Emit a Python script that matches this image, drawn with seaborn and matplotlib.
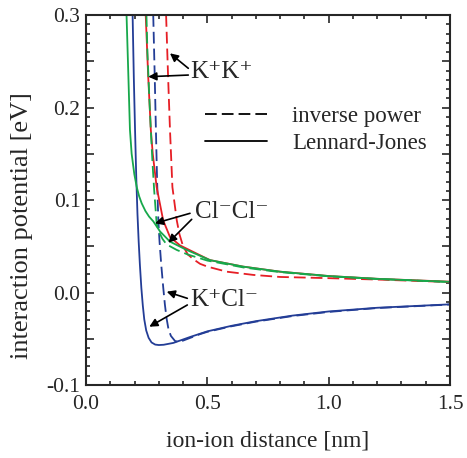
import seaborn as sns
import matplotlib.pyplot as plt
from matplotlib.lines import Line2D
from matplotlib.ticker import MultipleLocator, FuncFormatter

# K+Cl- : Lennard-Jones (solid) and inverse power (dashed)
kcl_lj_x = [0.192, 0.197, 0.202, 0.207, 0.212, 0.217, 0.222, 0.228, 0.234, 0.240, 0.248, 0.258,
            0.270, 0.285, 0.300, 0.320, 0.360, 0.430, 0.500, 0.600, 0.700, 0.850, 1.000, 1.200, 1.500]
kcl_lj_y = [0.300, 0.232, 0.176, 0.125, 0.085, 0.055, 0.030, 0.005, -0.014, -0.029, -0.041, -0.049,
            -0.054, -0.0563, -0.0568, -0.0565, -0.0545, -0.048, -0.042, -0.036, -0.031, -0.025, -0.0205, -0.0165, -0.0128]
kcl_ip_x = [0.277, 0.283, 0.288, 0.293, 0.298, 0.303, 0.310, 0.318, 0.325, 0.332, 0.340, 0.350,
            0.367, 0.385, 0.400, 0.430, 0.470, 0.500, 0.600, 0.700, 0.850, 1.000, 1.200, 1.500]
kcl_ip_y = [0.300, 0.235, 0.176, 0.120, 0.078, 0.055, 0.030, 0.006, -0.013, -0.028, -0.040, -0.047,
            -0.0525, -0.0535, -0.052, -0.049, -0.045, -0.0425, -0.0365, -0.0315, -0.0255, -0.021, -0.0168, -0.013]

# K+K+
kk_lj_x = [0.246, 0.256, 0.267, 0.275, 0.291, 0.318, 0.346, 0.387, 0.441, 0.511, 0.647, 0.800, 1.000, 1.200, 1.500]
kk_lj_y = [0.300, 0.235, 0.176, 0.150, 0.114, 0.078, 0.060, 0.051, 0.044, 0.035, 0.028, 0.0225, 0.0178, 0.0148, 0.0117]
kk_ip_x = [0.330, 0.338, 0.346, 0.351, 0.356, 0.374, 0.385, 0.400, 0.420, 0.445, 0.470, 0.500,
           0.580, 0.690, 0.800, 1.000, 1.200, 1.500]
kk_ip_y = [0.300, 0.235, 0.176, 0.145, 0.114, 0.078, 0.063, 0.050, 0.041, 0.0355, 0.031, 0.028,
           0.0225, 0.019, 0.0168, 0.0155, 0.0140, 0.0113]

# Cl-Cl-
clcl_lj_x = [0.167, 0.175, 0.181, 0.188, 0.199, 0.209, 0.219, 0.2295, 0.245, 0.260, 0.277, 0.305,
             0.346, 0.415, 0.511, 0.647, 0.800, 1.000, 1.200, 1.500]
clcl_lj_y = [0.300, 0.230, 0.176, 0.150, 0.128, 0.114, 0.104, 0.0964, 0.088, 0.082, 0.077, 0.066,
             0.055, 0.046, 0.035, 0.028, 0.0225, 0.0178, 0.0148, 0.0115]
clcl_ip_x = [0.249, 0.253, 0.261, 0.267, 0.274, 0.281, 0.291, 0.300, 0.315, 0.332, 0.374, 0.420,
             0.500, 0.650, 0.800, 1.000, 1.200, 1.500]
clcl_ip_y = [0.300, 0.260, 0.210, 0.176, 0.140, 0.110, 0.075, 0.066, 0.058, 0.052, 0.046, 0.041,
             0.0345, 0.027, 0.022, 0.0175, 0.0146, 0.0113]

blue, red, green = '#233d96', '#e61e25', '#17a84b'
dash = (0, (6.5, 2.8))

sns.set_style("ticks")
plt.rcParams['font.family'] = ['Liberation Serif', 'DejaVu Serif']

fig = plt.figure(figsize=(4.67, 4.58), dpi=100)
ax = fig.add_axes([0.1842, 0.1594, 0.7794, 0.8078])

curves = [
    (kcl_ip_x, kcl_ip_y, blue, dash), (kcl_lj_x, kcl_lj_y, blue, '-'),
    (kk_ip_x, kk_ip_y, red, dash), (kk_lj_x, kk_lj_y, red, '-'),
    (clcl_ip_x, clcl_ip_y, green, dash), (clcl_lj_x, clcl_lj_y, green, '-'),
]
for xs, ys, c, ls in curves:
    sns.lineplot(x=xs, y=ys, color=c, linestyle=ls, lw=1.3, sort=False, estimator=None, ax=ax)

ax.set_xlim(0, 1.5)
ax.set_ylim(-0.1, 0.3)
ax.xaxis.set_major_locator(MultipleLocator(0.5))
ax.xaxis.set_minor_locator(MultipleLocator(0.1))
ax.xaxis.set_major_formatter(FuncFormatter(lambda v, p: f"{v:.1f}"))
ax.yaxis.set_major_locator(MultipleLocator(0.05))
ax.yaxis.set_minor_locator(MultipleLocator(0.01))
ax.yaxis.set_major_formatter(FuncFormatter(
    lambda v, p: f"{v:.1f}" if abs(v * 10 - round(v * 10)) < 1e-6 else ""))
ax.tick_params(which='both', direction='in', top=True, right=True, width=1.2, labelsize=15.5)
ax.tick_params(which='major', length=6)
ax.tick_params(which='minor', length=3)
ax.tick_params(axis='x', pad=7)
ax.tick_params(axis='y', pad=4)
for s in ax.spines.values():
    s.set_linewidth(1.5)

ax.set_xlabel('ion-ion distance [nm]', fontsize=17, labelpad=12)
ax.set_ylabel('interaction potential [eV]', fontsize=19)
ax.yaxis.set_label_coords(-0.146, 0.43)

# legend
handles = [Line2D([], [], color='black', lw=1.3, linestyle=dash),
           Line2D([], [], color='black', lw=1.3)]
ax.legend(handles, ['inverse power', 'Lennard-Jones'], loc='center left',
          bbox_to_anchor=(0.327, 0.69), frameon=False, fontsize=16.5,
          handlelength=2.7, handletextpad=1.1, labelspacing=0.25,
          borderpad=0, borderaxespad=0)

# annotations
arrow = dict(arrowstyle='-|>', color='black', lw=1.2, mutation_scale=12, shrinkA=0, shrinkB=0)
ax.text(0.4285, 0.2384, 'K⁺K⁺', fontsize=18, va='center', ha='left')
ax.annotate('', xy=(0.346, 0.2586), xytext=(0.4215, 0.2424), arrowprops=arrow)
ax.annotate('', xy=(0.2567, 0.2333), xytext=(0.4215, 0.2351), arrowprops=arrow)

ax.text(0.449, 0.087, 'Cl⁻Cl⁻', fontsize=18, va='center', ha='left')
ax.annotate('', xy=(0.2843, 0.0748), xytext=(0.4285, 0.0856), arrowprops=arrow)
ax.annotate('', xy=(0.339, 0.0538), xytext=(0.4355, 0.0791), arrowprops=arrow)

ax.text(0.4285, -0.0081, 'K⁺Cl⁻', fontsize=18, va='center', ha='left')
ax.annotate('', xy=(0.3325, 0.0009), xytext=(0.4174, -0.0063), arrowprops=arrow)
ax.annotate('', xy=(0.2608, -0.037), xytext=(0.4174, -0.0135), arrowprops=arrow)

fig.savefig('out.png', dpi=100)
